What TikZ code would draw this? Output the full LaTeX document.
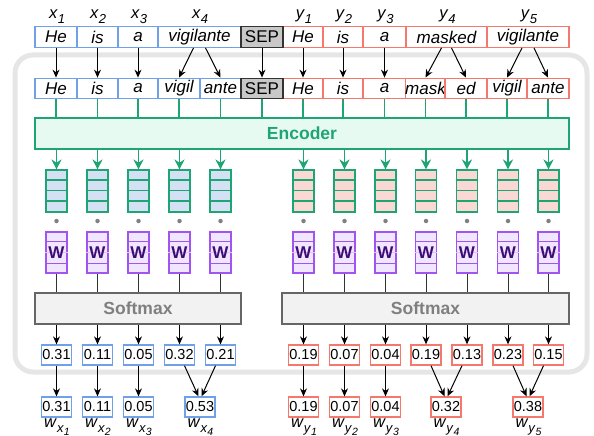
\documentclass[tikz,border=0pt]{standalone}
\usepackage{fontspec}
\setmainfont{Liberation Sans}
\usetikzlibrary{arrows.meta}
\definecolor{bblue}{HTML}{6FA0E8}
\definecolor{rred}{HTML}{F4786C}
\definecolor{gbord}{HTML}{1FA573}
\definecolor{encfill}{HTML}{E6FAF2}
\definecolor{vblue}{HTML}{D4E1F5}
\definecolor{vred}{HTML}{FAD9D5}
\definecolor{wfill}{HTML}{F1E6FF}
\definecolor{wbord}{HTML}{A155F0}
\definecolor{wtext}{HTML}{3E0C75}
\definecolor{bggray}{HTML}{E6E6E6}
\definecolor{smfill}{HTML}{F2F2F2}
\definecolor{smbord}{HTML}{666666}
\definecolor{smtext}{HTML}{7F7F7F}
\definecolor{sepfill}{HTML}{C8C8C8}
\newcommand{\tk}[6]{\node[#1, minimum width={#4-#3}] (#2) at ({(#3+#4)/2},#5) {#6};}
\newcommand{\sub}[2]{\textit{#1}\raisebox{-0.3em}{\fontsize{13}{13}\selectfont\textit{#2}}}
\newcommand{\wsub}[2]{\textit{w}\raisebox{-0.3em}{\fontsize{13}{13}\selectfont\textit{#1}\raisebox{-0.2em}{\fontsize{10.5}{10.5}\selectfont\textit{#2}}}}
\begin{document}
\begin{tikzpicture}[x=1pt,y=-1pt,
  tokb/.style={draw=bblue, line width=1.3pt, fill=white, inner sep=0pt, minimum height=20.5, font=\fontsize{17}{17}\selectfont\itshape},
  tokr/.style={tokb, draw=rred},
  toksep/.style={tokb, draw=black!80, fill=sepfill, font=\fontsize{17}{17}\selectfont},
  lab/.style={font=\fontsize{16.5}{16.5}\selectfont, inner sep=0pt},
  arr/.style={-{Stealth[length=8pt,width=7pt]}, line width=1pt, black},
  gline/.style={line width=1.5pt, gbord},
  garr/.style={-{Stealth[length=10pt,width=10pt]}, line width=1.7pt, gbord},
  vec/.style={draw=gbord, line width=1.1pt, minimum width=21, minimum height=42, inner sep=0pt},
  wbox/.style={draw=wbord, fill=wfill, line width=1.1pt, minimum width=21, minimum height=41, inner sep=0pt},
  dotn/.style={circle, fill=gray, inner sep=0pt, minimum size=4.5},
  valb/.style={draw=bblue, fill=white, line width=1.3pt, minimum width=30, minimum height=20, inner sep=0pt, font=\fontsize{14.5}{14.5}\selectfont},
  valr/.style={valb, draw=rred},
  smax/.style={draw=smbord, fill=smfill, line width=1.4pt, minimum height=31, inner sep=0pt, font=\fontsize{17.5}{17.5}\selectfont\bfseries, text=smtext},
  wline/.style={line width=1pt, black!80}
]
\useasboundingbox (0,0) rectangle (594,436);
% background panel
\draw[bggray, line width=5pt, rounded corners=18pt] (15,55) rectangle (587,372);

% top labels
\node[lab] (lx1) at (57,17) {\sub{x}{1}};
\node[lab] (lx2) at (98,17) {\sub{x}{2}};
\node[lab] (lx3) at (139,17) {\sub{x}{3}};
\node[lab] (lx4) at (200,17) {\sub{x}{4}};
\node[lab] (ly1) at (304,17) {\sub{y}{1}};
\node[lab] (ly2) at (344,17) {\sub{y}{2}};
\node[lab] (ly3) at (385.5,17) {\sub{y}{3}};
\node[lab] (ly4) at (447.5,17) {\sub{y}{4}};
\node[lab] (ly5) at (529,17) {\sub{y}{5}};

% top row
\tk{tokb}{t1}{35}{77}{37}{He}
\tk{tokb}{t2}{77}{118}{37}{is}
\tk{tokb}{t3}{118}{158}{37}{a}
\tk{tokb}{t4}{158}{241}{37}{vigilante}
\tk{tokr}{t6}{283}{323}{37}{He}
\tk{tokr}{t7}{323}{363}{37}{is}
\tk{tokr}{t8}{363}{406}{37}{a}
\tk{tokr}{t9}{406}{487}{37}{masked}
\tk{tokr}{t10}{487}{569}{37}{vigilante}
\tk{toksep}{tsep}{241}{283}{37}{SEP}

% second row
\tk{tokb}{s1}{35}{77}{88.5}{He}
\tk{tokb}{s2}{77}{118}{88.5}{is}
\tk{tokb}{s3}{118}{158}{88.5}{a}
\tk{tokb}{s4}{158}{200}{88.5}{vigil}
\tk{tokb}{s5}{200}{241}{88.5}{ante}
\tk{tokr}{s6}{283}{323}{88.5}{He}
\tk{tokr}{s7}{323}{363}{88.5}{is}
\tk{tokr}{s8}{363}{406}{88.5}{a}
\tk{tokr}{s9}{406}{445}{88.5}{mask}
\tk{tokr}{s10}{445}{487}{88.5}{ed}
\tk{tokr}{s11}{487}{527}{88.5}{vigil}
\tk{tokr}{s12}{527}{569}{88.5}{ante}
\tk{toksep}{ssep}{241}{283}{88.5}{SEP}

% arrows top -> second
\foreach \i in {1,2,3,6,7,8} \draw[arr] (t\i.south) -- (s\i.north);
\draw[arr] (tsep.south) -- (ssep.north);
\draw[arr] ([xshift=-6pt]t4.south) -- (s4.north);
\draw[arr] ([xshift=6pt]t4.south) -- (s5.north);
\draw[arr] ([xshift=-5pt]t9.south) -- (s9.north);
\draw[arr] ([xshift=5pt]t9.south) -- (s10.north);
\draw[arr] ([xshift=-6pt]t10.south) -- (s11.north);
\draw[arr] ([xshift=6pt]t10.south) -- (s12.north);

% encoder
\node[draw=gbord, fill=encfill, line width=1.5pt, minimum width=534, minimum height=31, inner sep=0pt,
  font=\fontsize{17.5}{17.5}\selectfont\bfseries, text=gbord] (enc) at (302,133.5) {Encoder};
\foreach \i in {1,...,12} \draw[gline] (s\i.south) -- (s\i.south |- enc.north);
\draw[gline] (ssep.south) -- (ssep.south |- enc.north);

% softmax
\node[smax, minimum width=206] (smL) at (138,308.5) {Softmax};
\node[smax, minimum width=287] (smR) at (425.5,308.5) {Softmax};

% columns
\foreach \n/\x/\c/\sm/\vs/\v in {1/56.5/vblue/smL/valb/0.31, 2/97.5/vblue/smL/valb/0.11, 3/138.5/vblue/smL/valb/0.05, 4/179.5/vblue/smL/valb/0.32, 5/220.5/vblue/smL/valb/0.21,
  6/303.5/vred/smR/valr/0.19, 7/344.5/vred/smR/valr/0.07, 8/385.5/vred/smR/valr/0.04, 9/426/vred/smR/valr/0.19, 10/467/vred/smR/valr/0.13, 11/508/vred/smR/valr/0.23, 12/548.5/vred/smR/valr/0.15} {
  \node[vec, fill=\c] (v\n) at (\x,191) {};
  \foreach \k in {1,2,3} \draw[gbord, line width=1.1pt] ([yshift=-\k*10.5]v\n.north west) -- ([yshift=-\k*10.5]v\n.north east);
  \draw[garr] (v\n.north |- enc.south) -- (v\n.north);
  \node[dotn] (d\n) at (\x,221) {};
  \node[wbox] (w\n) at (\x,252.5) {};
  \draw[wbord, line width=1.1pt] ([yshift=-10pt]w\n.north west) -- ([yshift=-10pt]w\n.north east);
  \draw[wbord!35, line width=0.8pt] ([yshift=-20.5pt]w\n.north west) -- ([yshift=-20.5pt]w\n.north east);
  \draw[wbord, line width=1.1pt] ([yshift=10pt]w\n.south west) -- ([yshift=10pt]w\n.south east);
  \node[font=\fontsize{17}{17}\selectfont\bfseries, text=wtext, inner sep=0pt] (wt\n) at (w\n) {W};
  \draw[wline] (w\n.south) -- (w\n.south |- \sm.north);
  \node[\vs] (p\n) at (\x,355) {\v};
  \draw[arr] (p\n.north |- \sm.south) -- (p\n.north);
}

% bottom weights
\node[valb] (m1) at (56.5,407) {0.31};
\node[valb] (m2) at (97.5,407) {0.11};
\node[valb] (m3) at (138.5,407) {0.05};
\node[valb] (m4) at (200,407) {0.53};
\node[valr] (m6) at (303.5,407) {0.19};
\node[valr] (m7) at (344.5,407) {0.07};
\node[valr] (m8) at (385.5,407) {0.04};
\node[valr] (m9) at (446,407) {0.32};
\node[valr] (m10) at (528,407) {0.38};
\foreach \i in {1,2,3,6,7,8} \draw[arr] (p\i.south) -- (m\i.north);
\draw[arr] ([xshift=5pt]p4.south) -- ([xshift=-1.5pt]m4.north);
\draw[arr] ([xshift=-5pt]p5.south) -- ([xshift=1.5pt]m4.north);
\draw[arr] ([xshift=5pt]p9.south) -- ([xshift=-1.5pt]m9.north);
\draw[arr] ([xshift=-5pt]p10.south) -- ([xshift=1.5pt]m9.north);
\draw[arr] ([xshift=5pt]p11.south) -- ([xshift=-1.5pt]m10.north);
\draw[arr] ([xshift=-5pt]p12.south) -- ([xshift=1.5pt]m10.north);

% bottom labels
\node[lab] (wx1) at (57,427) {\wsub{x}{1}};
\node[lab] (wx2) at (98,427) {\wsub{x}{2}};
\node[lab] (wx3) at (139,427) {\wsub{x}{3}};
\node[lab] (wx4) at (200.5,427) {\wsub{x}{4}};
\node[lab] (wy1) at (304,427) {\wsub{y}{1}};
\node[lab] (wy2) at (345,427) {\wsub{y}{2}};
\node[lab] (wy3) at (386,427) {\wsub{y}{3}};
\node[lab] (wy4) at (446.5,427) {\wsub{y}{4}};
\node[lab] (wy5) at (528.5,427) {\wsub{y}{5}};
\end{tikzpicture}
\end{document}
